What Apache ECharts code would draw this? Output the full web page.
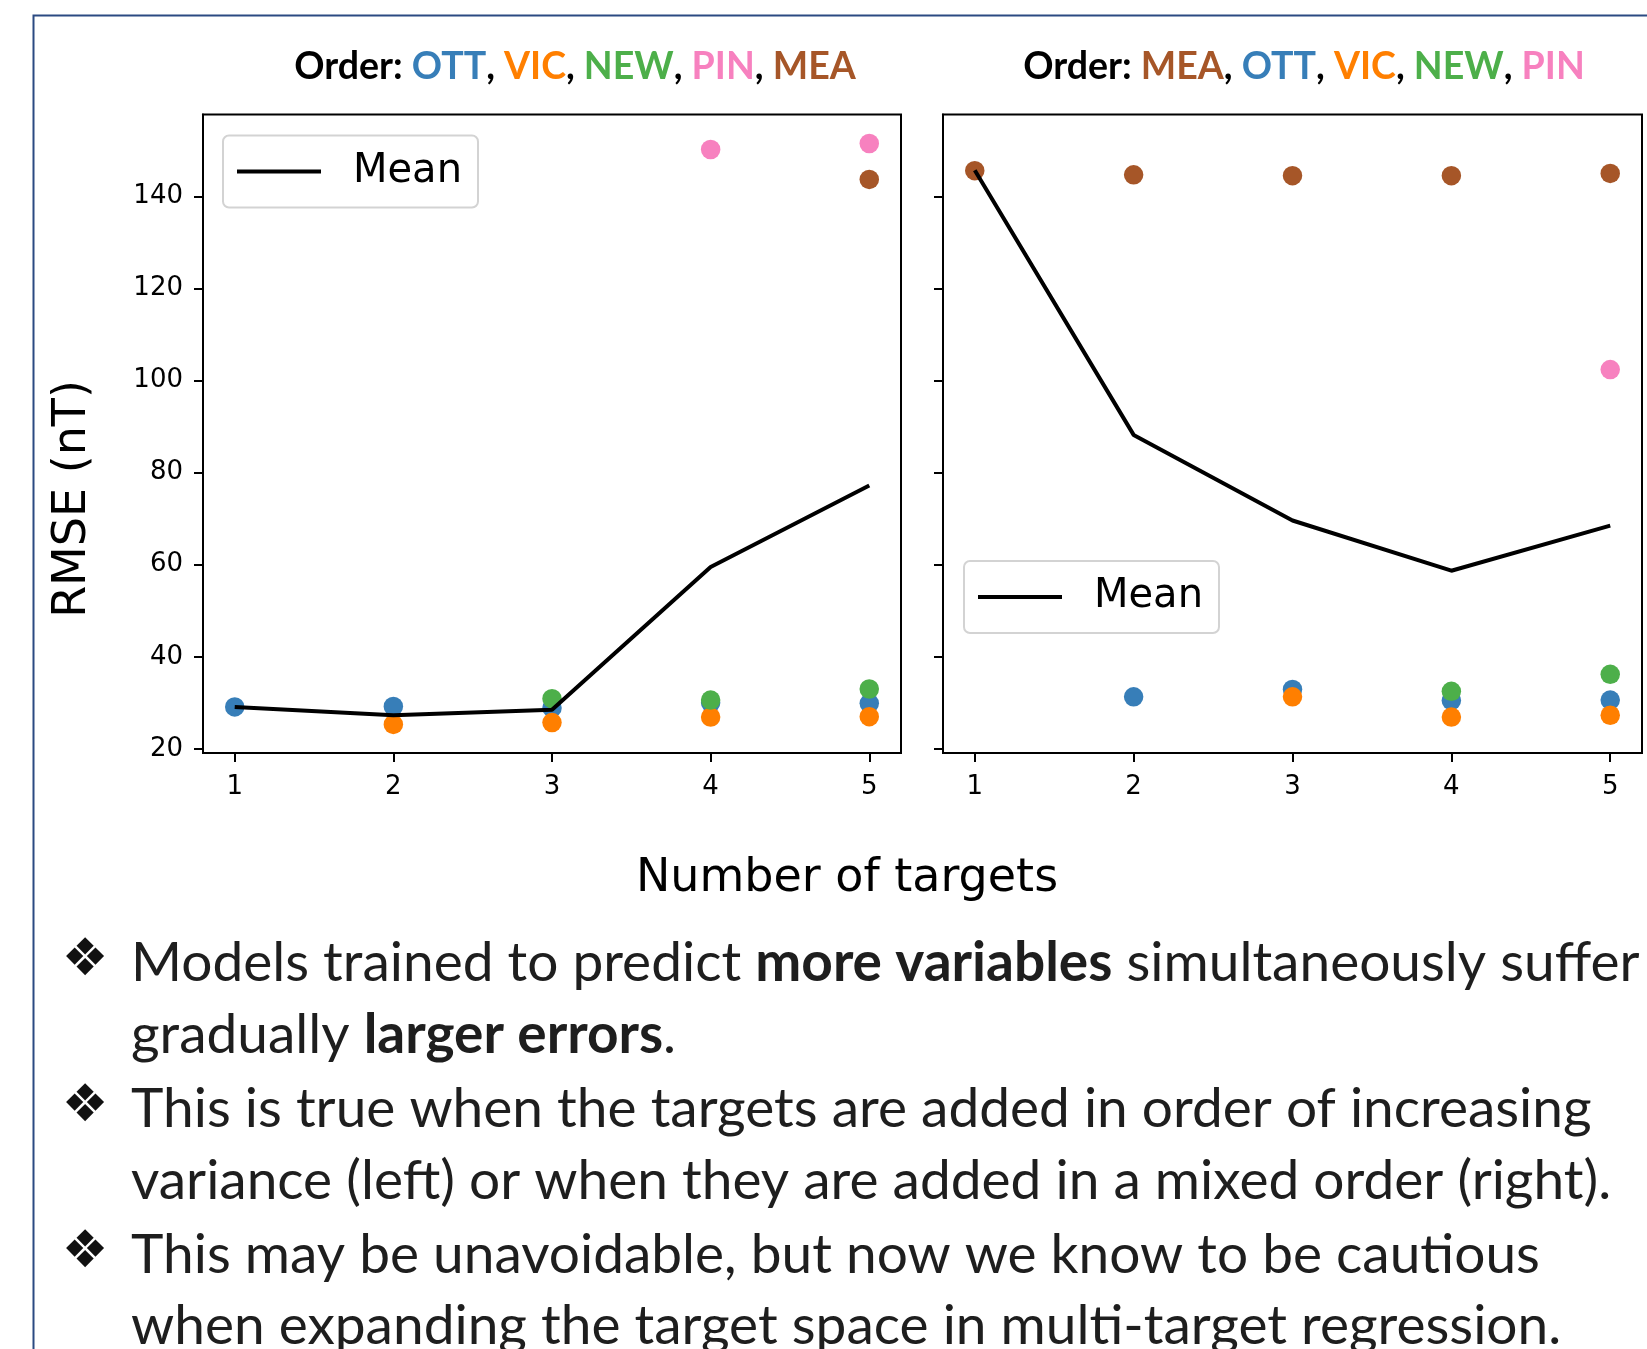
<!DOCTYPE html>
<html>
<head>
<meta charset="utf-8">
<script src="https://cdn.jsdelivr.net/npm/echarts/dist/echarts.min.js"></script>
<style>
  html, body { margin: 0; padding: 0; background: #fff; }
  #main { width: 1647px; height: 1349px; }
</style>
</head>
<body>
<div id="main"></div>
<script>
// number of targets on the x axis
const targets = [1, 2, 3, 4, 5];
const xTicks = [1, 2, 3, 4, 5];
const yTicks = [20, 40, 60, 80, 100, 120, 140];

// left panel, order OTT, VIC, NEW, PIN, MEA
const leftOTT = [29.1, 29.2, 28.9, 30.0, 29.9];
const leftVIC = [null, 25.3, 25.7, 26.9, 27.0];
const leftNEW = [null, null, 30.9, 30.6, 33.0];
const leftPIN = [null, null, null, 150.2, 151.5];
const leftMEA = [null, null, null, null, 143.7];
const leftMean = [29.1, 27.3, 28.5, 59.5, 77.2];

// right panel, order MEA, OTT, VIC, NEW, PIN
const rightMEA = [145.6, 144.7, 144.5, 144.5, 145.0];
const rightOTT = [null, 31.3, 32.9, 30.5, 30.6];
const rightVIC = [null, null, 31.3, 26.9, 27.3];
const rightNEW = [null, null, null, 32.5, 36.2];
const rightPIN = [null, null, null, null, 102.4];
const rightMean = [145.7, 88.2, 69.6, 58.7, 68.5];

const col = {
  OTT: '#377eb8',
  VIC: '#ff7f00',
  NEW: '#4daf4a',
  PIN: '#f781bf',
  MEA: '#a65628'
};

const chart = echarts.init(document.getElementById('main'), null, { renderer: 'canvas' });

function pts(vals) {
  const out = [];
  vals.forEach(function (v, i) {
    if (v != null) out.push([targets[i], v]);
  });
  return out;
}

function scatter(name, vals, idx) {
  return {
    name: name,
    type: 'scatter',
    xAxisIndex: idx,
    yAxisIndex: idx,
    symbolSize: 19.5,
    itemStyle: { color: col[name], opacity: 1 },
    data: pts(vals)
  };
}

function meanLine(vals, idx) {
  return {
    name: 'Mean',
    type: 'line',
    xAxisIndex: idx,
    yAxisIndex: idx,
    symbol: 'none',
    lineStyle: { color: '#000', width: 4 },
    itemStyle: { color: '#000' },
    z: 5,
    data: pts(vals)
  };
}

const tickFont = { fontFamily: 'DejaVu Sans', fontSize: 26, color: '#000' };

function xAx(idx) {
  return {
    type: 'value', gridIndex: idx, min: 0.8, max: 5.2,
    axisLine: { show: true, onZero: false, lineStyle: { color: '#000', width: 2 } },
    axisTick: { show: true, length: 9, customValues: xTicks, lineStyle: { color: '#000', width: 2 } },
    axisLabel: Object.assign({ customValues: xTicks, margin: 21 }, tickFont),
    splitLine: { show: false }
  };
}

function yAx(idx, labels) {
  return {
    type: 'value', gridIndex: idx, min: 19.1, max: 157.8,
    axisLine: { show: true, onZero: false, lineStyle: { color: '#000', width: 2 } },
    axisTick: { show: true, length: 9, customValues: yTicks, lineStyle: { color: '#000', width: 2 } },
    axisLabel: Object.assign({ show: labels, customValues: yTicks, margin: 20 }, tickFont),
    splitLine: { show: false }
  };
}

function legendAt(left, top) {
  return {
    data: [{ name: 'Mean', icon: 'rect' }],
    left: left,
    top: top,
    orient: 'vertical',
    itemWidth: 84,
    itemHeight: 4,
    padding: [12, 16, 12, 14],
    backgroundColor: '#fff',
    borderColor: '#d3d3d3',
    borderWidth: 2,
    borderRadius: 6,
    selectedMode: false,
    textStyle: { fontFamily: 'DejaVu Sans', fontSize: 40, color: '#000', padding: [4, 0, 0, 27], lineHeight: 44 }
  };
}

function richPart(c) {
  return { fontFamily: 'Lato', fontWeight: 'bold', fontSize: 37.5, fill: c };
}
const titleRich = {
  k: richPart('#000'),
  OTT: richPart(col.OTT),
  VIC: richPart(col.VIC),
  NEW: richPart(col.NEW),
  PIN: richPart(col.PIN),
  MEA: richPart(col.MEA)
};

function orderTitle(list) {
  return '{k|Order: }' + list.map(function (s) { return '{' + s + '|' + s + '}'; }).join('{k|, }');
}

const bodyFont = 'Lato';
const bodySize = 55;
const bodyRich = {
  r: { fontFamily: bodyFont, fontSize: bodySize, fill: '#1e1e1e' },
  b: { fontFamily: bodyFont, fontSize: bodySize, fontWeight: 'bold', fill: '#1e1e1e' }
};
const bodyLines = [
  '{r|Models trained to predict }{b|more variables}{r| simultaneously suffer}',
  '{r|gradually }{b|larger errors}{r|.}',
  '{r|This is true when the targets are added in order of increasing}',
  '{r|variance (left) or when they are added in a mixed order (right).}',
  '{r|This may be unavoidable, but now we know to be cautious}',
  '{r|when expanding the target space in multi-target regression.}'
];
const lineY = [963, 1035, 1109, 1181, 1255, 1326];
const bulletLines = [0, 2, 4];

const graphics = [
  { type: 'rect', shape: { x: 33.5, y: 15.5, width: 2000, height: 2000 },
    style: { fill: 'none', stroke: '#2b4a82', lineWidth: 2 }, z: -1 },
  { type: 'text', x: 575, y: 67, style: { text: orderTitle(['OTT', 'VIC', 'NEW', 'PIN', 'MEA']), rich: titleRich, align: 'center', verticalAlign: 'middle' } },
  { type: 'text', x: 1304, y: 67, style: { text: orderTitle(['MEA', 'OTT', 'VIC', 'NEW', 'PIN']), rich: titleRich, align: 'center', verticalAlign: 'middle' } },
  { type: 'text', x: 73, y: 499, rotation: Math.PI / 2,
    style: { text: 'RMSE (nT)', font: '46px "DejaVu Sans"', fill: '#000', align: 'center', verticalAlign: 'middle' } },
  { type: 'text', x: 847, y: 879,
    style: { text: 'Number of targets', font: '46px "DejaVu Sans"', fill: '#000', align: 'center', verticalAlign: 'middle' } }
];
bodyLines.forEach(function (t, i) {
  graphics.push({ type: 'text', x: 131, y: lineY[i],
    style: { text: t, rich: bodyRich, align: 'left', verticalAlign: 'middle' } });
});
bulletLines.forEach(function (i) {
  graphics.push({ type: 'text', x: 85, y: lineY[i] - 2,
    style: { text: '\u2756', font: '52px "DejaVu Sans"', fill: '#111', align: 'center', verticalAlign: 'middle' } });
});

const option = {
  backgroundColor: '#fff',
  animation: false,
  grid: [
    { left: 203, top: 114.5, width: 698, height: 638.5, show: true, borderColor: '#000', borderWidth: 2, backgroundColor: 'transparent' },
    { left: 943, top: 114.5, width: 699, height: 638.5, show: true, borderColor: '#000', borderWidth: 2, backgroundColor: 'transparent' }
  ],
  xAxis: [xAx(0), xAx(1)],
  yAxis: [yAx(0, true), yAx(1, false)],
  legend: [legendAt(223, 135.5), legendAt(964, 561)],
  graphic: graphics,
  series: [
    scatter('OTT', leftOTT, 0),
    scatter('VIC', leftVIC, 0),
    scatter('NEW', leftNEW, 0),
    scatter('PIN', leftPIN, 0),
    scatter('MEA', leftMEA, 0),
    meanLine(leftMean, 0),
    scatter('MEA', rightMEA, 1),
    scatter('OTT', rightOTT, 1),
    scatter('VIC', rightVIC, 1),
    scatter('NEW', rightNEW, 1),
    scatter('PIN', rightPIN, 1),
    meanLine(rightMean, 1)
  ]
};
chart.setOption(option);
</script>
</body>
</html>
